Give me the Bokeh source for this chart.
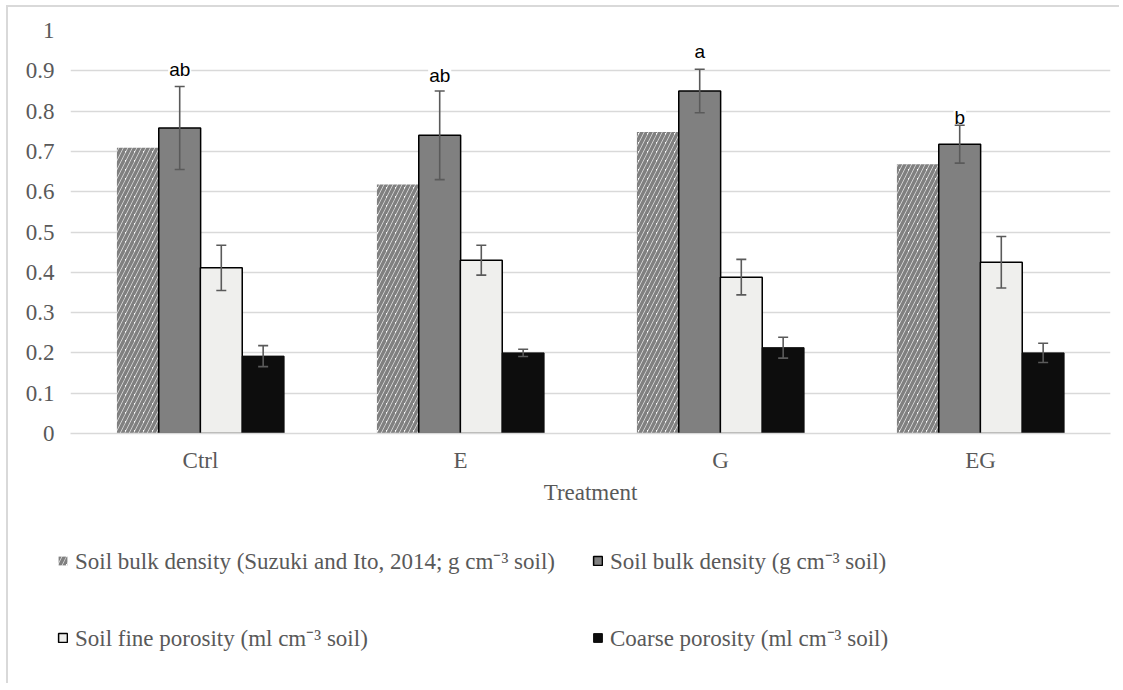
from bokeh.plotting import figure
from bokeh.models import (FactorRange, Range1d, ColumnDataSource, Whisker, TeeHead,
                          Legend, LegendItem, FixedTicker)
from bokeh.transform import dodge
from bokeh.core.properties import value
from bokeh.embed import file_html
from bokeh.resources import INLINE

# ---------------- data ----------------
categories = ["Ctrl", "E", "G", "EG"]
bd_suzuki = [0.709, 0.618, 0.748, 0.668]
bd = [0.758, 0.740, 0.850, 0.718]
bd_se = [0.103, 0.110, 0.054, 0.047]
fine = [0.411, 0.430, 0.388, 0.425]
fine_se = [0.056, 0.037, 0.044, 0.064]
coarse = [0.192, 0.200, 0.213, 0.200]
coarse_se = [0.026, 0.009, 0.026, 0.024]
letters = ["ab", "ab", "a", "b"]
letter_y = [0.903, 0.888, 0.947, 0.783]
yticks = [0, 0.1, 0.2, 0.3, 0.4, 0.5, 0.6, 0.7, 0.8, 0.9, 1.0]
ytick_labels = ["0", "0.1", "0.2", "0.3", "0.4", "0.5", "0.6", "0.7", "0.8", "0.9", "1"]
series_names = ["Soil bulk density (Suzuki and Ito, 2014; g cm\u207b\u00b3 soil)",
                "Soil bulk density (g cm\u207b\u00b3 soil)",
                "Soil fine porosity (ml cm\u207b\u00b3 soil)",
                "Coarse porosity (ml cm\u207b\u00b3 soil)"]
x_title = "Treatment"

src = ColumnDataSource(dict(
    cat=categories, sz=bd_suzuki, bd=bd,
    bd_lo=[v - e for v, e in zip(bd, bd_se)], bd_hi=[v + e for v, e in zip(bd, bd_se)],
    fine=fine,
    fine_lo=[v - e for v, e in zip(fine, fine_se)], fine_hi=[v + e for v, e in zip(fine, fine_se)],
    coarse=coarse,
    co_lo=[v - e for v, e in zip(coarse, coarse_se)], co_hi=[v + e for v, e in zip(coarse, coarse_se)],
    lab=letters, lab_y=letter_y,
))

SERIF = "Liberation Serif"
GREY_TXT = "#595959"
FS = "23px"

# bar styles (shared by chart and legend)
STY = [
    dict(fill_color="white", line_color=None, hatch_pattern="right_diagonal_line",
         hatch_color="#808080", hatch_weight=3.5, hatch_scale=9),
    dict(fill_color="#808080", line_color="black", line_width=1.5),
    dict(fill_color="#efefed", line_color="black", line_width=1.5),
    dict(fill_color="#0d0d0d", line_color="#0d0d0d", line_width=1),
]

p = figure(x_range=FactorRange(*categories), y_range=Range1d(0, 1),
           width=1113, height=513, output_backend="svg", toolbar_location=None,
           min_border_left=62, min_border_right=11, min_border_top=23, min_border_bottom=87)
p.styles = {"margin-left": "6px", "margin-top": "5px",
            "border-left": "2px solid #d9d9d9", "border-top": "2px solid #d9d9d9"}
p.outline_line_color = None
p.background_fill_color = "white"
p.border_fill_color = "white"

W = 0.161
offs = [-0.241, -0.080, 0.080, 0.241]
cols = ["sz", "bd", "fine", "coarse"]
for off, c, st in zip(offs, cols, STY):
    p.vbar(x=dodge("cat", off, range=p.x_range), top=c, width=W, source=src, **st)

p.text(x=dodge("cat", offs[1], range=p.x_range), y="lab_y", text="lab", source=src,
       text_font=value("Liberation Sans"), text_font_size="19px", text_color="black",
       text_align="center", text_baseline="middle",
       background_fill_color="white", padding=1)

for off, lo, hi in [(offs[1], "bd_lo", "bd_hi"), (offs[2], "fine_lo", "fine_hi"),
                    (offs[3], "co_lo", "co_hi")]:
    wk = Whisker(base=dodge("cat", off, range=p.x_range), lower=lo, upper=hi, source=src,
                 line_color="#5a5a5a", line_width=1.6, level="annotation",
                 upper_head=TeeHead(size=10, line_color="#5a5a5a", line_width=1.6),
                 lower_head=TeeHead(size=10, line_color="#5a5a5a", line_width=1.6))
    p.add_layout(wk)

# axes
p.xgrid.grid_line_color = None
p.ygrid.grid_line_color = "#d9d9d9"
p.ygrid.grid_line_width = 1.3
p.yaxis.ticker = FixedTicker(ticks=yticks)
p.yaxis.major_label_overrides = {t: s for t, s in zip(yticks, ytick_labels)}
p.yaxis.axis_line_color = None
p.yaxis.major_tick_line_color = None
p.yaxis.minor_tick_line_color = None
p.yaxis.major_tick_out = 0
p.yaxis.major_tick_in = 0
p.yaxis.major_label_text_font = SERIF
p.yaxis.major_label_text_font_size = FS
p.yaxis.major_label_text_color = GREY_TXT
p.yaxis.major_label_standoff = 16

p.xaxis.axis_line_color = "#d9d9d9"
p.xaxis.axis_line_width = 1.3
p.xaxis.major_tick_line_color = None
p.xaxis.minor_tick_line_color = None
p.xaxis.major_tick_out = 0
p.xaxis.major_tick_in = 0
p.xaxis.major_label_text_font = SERIF
p.xaxis.major_label_text_font_size = FS
p.xaxis.major_label_text_color = GREY_TXT
p.xaxis.major_label_standoff = 14
p.xaxis.axis_label = x_title
p.xaxis.axis_label_text_font = SERIF
p.xaxis.axis_label_text_font_size = FS
p.xaxis.axis_label_text_font_style = "normal"
p.xaxis.axis_label_text_color = GREY_TXT
p.xaxis.axis_label_standoff = 4

# ---------------- legend panel (separate root, no frame alignment) ----------------
p2 = figure(width=1113, height=165, x_range=Range1d(0, 1), y_range=Range1d(0, 1),
            output_backend="svg", toolbar_location=None, x_axis_type=None, y_axis_type=None,
            min_border_left=0, min_border_right=0, min_border_top=0, min_border_bottom=0)
p2.styles = {"margin-left": "6px", "border-left": "2px solid #d9d9d9"}
p2.outline_line_color = None
p2.grid.visible = False
p2.background_fill_color = "white"
p2.border_fill_color = "white"
# legend swatches: renderers whose single bar lies outside the visible range
lr = [p2.vbar(x=[5], top=[0], width=0.1, **st) for st in STY]


def make_legend(items, vy):
    return Legend(items=items, location=(49, vy), orientation="horizontal",
                  label_text_font=SERIF, label_text_font_size=FS, label_text_color=GREY_TXT,
                  glyph_width=11, glyph_height=11, label_standoff=7, label_width=507,
                  label_height=24, spacing=10, padding=0, margin=0,
                  border_line_color=None, background_fill_alpha=0)


p2.add_layout(make_legend([LegendItem(label=series_names[0], renderers=[lr[0]]),
                           LegendItem(label=series_names[1], renderers=[lr[1]])], 107))
p2.add_layout(make_legend([LegendItem(label=series_names[2], renderers=[lr[2]]),
                           LegendItem(label=series_names[3], renderers=[lr[3]])], 30))

open("out.html", "w").write(file_html([p, p2], INLINE))
